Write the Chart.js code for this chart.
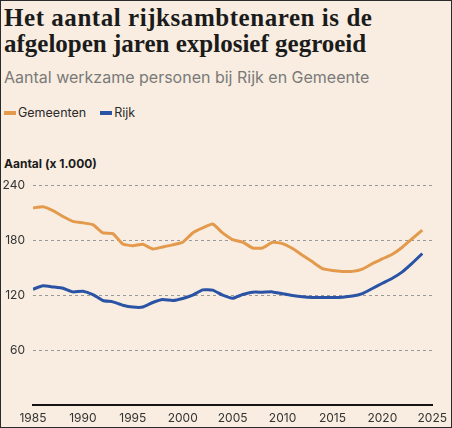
<!DOCTYPE html>
<html>
<head>
<meta charset="utf-8">
<script src="https://cdn.jsdelivr.net/npm/chart.js@4"></script>
<style>
  html, body { margin: 0; padding: 0; }
  body {
    width: 452px; height: 428px; overflow: hidden;
    background: #f8ede0; position: relative;
    box-sizing: border-box; border: 1px solid #2a2a2a;
    font-family: Inter, "Open Sans", sans-serif;
  }
  #titel {
    position: absolute; left: 3px; top: 4px;
    font-family: "Liberation Serif", "DejaVu Serif", serif;
    font-weight: bold; font-size: 25px; line-height: 26px; color: #1b1b1b;
  }
  #titel .r1 { letter-spacing: 0.55px; }
  #ondertitel {
    position: absolute; left: 3px; top: 66px;
    font-size: 16px; color: #7a7a7a;
  }
  #legenda {
    position: absolute; left: 3px; top: 104px; font-size: 12.5px; color: #2a2a2a;
  }
  #legenda span.item { margin-right: 14px; }
  #legenda span.box {
    display: inline-block; width: 12px; height: 4px; margin-right: 2px;
    vertical-align: middle; position: relative; top: -1px;
  }
  #eenheid {
    position: absolute; left: 3px; top: 155px;
    font-size: 12px; font-weight: bold; color: #1b1b1b;
  }
  #wrap { position: absolute; left: 0; top: 160px; width: 452px; height: 266px; }
</style>
</head>
<body>
<div id="titel"><span class="r1">Het aantal rijksambtenaren is de</span><br>afgelopen jaren explosief gegroeid</div>
<div id="ondertitel">Aantal werkzame personen bij Rijk en Gemeente</div>
<div id="legenda"></div>
<div id="eenheid">Aantal (x 1.000)</div>
<div id="wrap"><canvas id="grafiek"></canvas></div>
<script>
// jaren 1985 t/m 2024, aantallen x 1.000
const jaren = [];
for (let j = 1985; j <= 2024; j++) jaren.push(j);

const gemeenten = [215.3, 216.7, 212.4, 206, 200.7, 199, 197, 188, 187.3, 176,
    174, 175.6, 170.5, 172.7, 175, 177.8, 188, 193.5, 197.8, 188,
    180.7, 178, 171.6, 171.6, 177.8, 176.4, 171, 163.6, 156.4, 149,
    147, 146, 146, 148.4, 154.5, 159.6, 164.7, 172.4, 181.8, 191];

const rijk = [126.5, 130.2, 129, 127.6, 123.6, 124.4, 120.7, 114.2, 112.7, 109,
    107, 107, 112, 115.3, 114.2, 116.4, 120, 125.8, 125.5, 120,
    116.7, 120.7, 123.3, 123.3, 123.6, 121.5, 119.6, 118.2, 117.5, 117.5,
    117.5, 117.8, 119, 121.8, 127.3, 133, 138.5, 145.5, 155, 165.5];

const xTicks = [1985, 1990, 1995, 2000, 2005, 2010, 2015, 2020, 2025];
const yTicks = [60, 120, 180, 240];

const oranje = '#e39a4c';
const blauw = '#2a53a5';

const ctx = document.getElementById('grafiek').getContext('2d');

const grafiek = new Chart(ctx, {
    type: 'line',
    data: {
        datasets: [
            {
                label: 'Gemeenten',
                data: jaren.map((j, i) => ({ x: j, y: gemeenten[i] })),
                borderColor: oranje,
                backgroundColor: oranje,
                borderWidth: 3,
                pointRadius: 0,
                tension: 0.15
            },
            {
                label: 'Rijk',
                data: jaren.map((j, i) => ({ x: j, y: rijk[i] })),
                borderColor: blauw,
                backgroundColor: blauw,
                borderWidth: 3,
                pointRadius: 0,
                tension: 0.15
            }
        ]
    },
    options: {
        responsive: true,
        maintainAspectRatio: false,
        animation: false,
        layout: { padding: { top: 0, right: 20, left: 0, bottom: 0 } },
        plugins: {
            legend: { display: false },
            tooltip: { enabled: false }
        },
        scales: {
            x: {
                type: 'linear',
                min: 1985,
                max: 2025,
                afterBuildTicks: s => { s.ticks = xTicks.map(v => ({ value: v })); },
                afterFit: s => { s.height = 22; },
                grid: { display: false, drawTicks: false },
                border: { display: true, color: '#151515', width: 2 },
                ticks: {
                    padding: 6,
                    color: '#333',
                    font: { family: 'Inter', size: 12 },
                    callback: v => String(v),
                    maxRotation: 0
                }
            },
            y: {
                min: 0,
                max: 250,
                afterBuildTicks: s => { s.ticks = yTicks.map(v => ({ value: v })); },
                afterFit: s => { s.width = 32; },
                grid: { color: '#999', lineWidth: 1, drawTicks: false },
                border: { display: false, dash: [3, 3] },
                ticks: {
                    padding: 8,
                    color: '#333',
                    font: { family: 'Inter', size: 12 }
                }
            }
        }
    }
});

// legenda uit de datasets
const leg = document.getElementById('legenda');
grafiek.data.datasets.forEach(ds => {
    const item = document.createElement('span');
    item.className = 'item';
    item.innerHTML = '<span class="box" style="background:' + ds.borderColor + '"></span>' + ds.label;
    leg.appendChild(item);
});
</script>
</body>
</html>
